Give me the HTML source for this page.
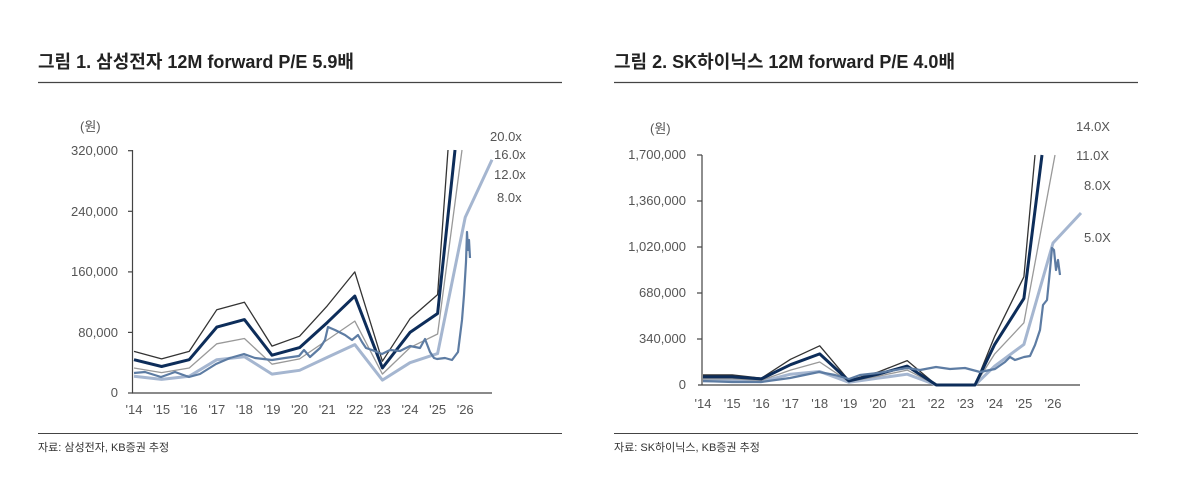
<!DOCTYPE html>
<html><head><meta charset="utf-8"><style>
body{margin:0;background:#fff;width:1200px;height:484px;overflow:hidden;font-family:"Liberation Sans","Noto Sans CJK KR",sans-serif}
svg text{font-family:"Liberation Sans","Noto Sans CJK KR",sans-serif}
</style></head><body>
<svg width="1200" height="484" viewBox="0 0 1200 484" xmlns="http://www.w3.org/2000/svg">
<text x="38" y="68" font-size="18" font-weight="bold" fill="#222">그림 1. 삼성전자 12M forward P/E 5.9배</text>
<text x="614" y="68" font-size="18" font-weight="bold" fill="#222">그림 2. SK하이닉스 12M forward P/E 4.0배</text>
<line x1="38" y1="82.5" x2="562" y2="82.5" stroke="#444" stroke-width="1.2"/>
<line x1="614" y1="82.5" x2="1138" y2="82.5" stroke="#444" stroke-width="1.2"/>
<line x1="38" y1="433.5" x2="562" y2="433.5" stroke="#444" stroke-width="1"/>
<line x1="614" y1="433.5" x2="1138" y2="433.5" stroke="#444" stroke-width="1"/>
<text x="38" y="451" font-size="11" fill="#333">자료: 삼성전자, KB증권 추정</text>
<text x="614" y="451" font-size="11" fill="#333">자료: SK하이닉스, KB증권 추정</text>

<!-- Chart 1 -->
<g font-size="13" fill="#555">
<text x="80" y="131">(원)</text>
<g text-anchor="end"><text x="118" y="155">320,000</text><text x="118" y="216">240,000</text><text x="118" y="276">160,000</text><text x="118" y="337">80,000</text><text x="118" y="397">0</text></g>
<g text-anchor="middle"><text x="134" y="414">'14</text><text x="161.6" y="414">'15</text><text x="189.2" y="414">'16</text><text x="216.8" y="414">'17</text><text x="244.4" y="414">'18</text><text x="272" y="414">'19</text><text x="299.6" y="414">'20</text><text x="327.2" y="414">'21</text><text x="354.8" y="414">'22</text><text x="382.4" y="414">'23</text><text x="410" y="414">'24</text><text x="437.6" y="414">'25</text><text x="465.2" y="414">'26</text></g>
<text x="490" y="141">20.0x</text><text x="494" y="159">16.0x</text><text x="494" y="179">12.0x</text><text x="497" y="202">8.0x</text>
</g>
<g stroke="#444" stroke-width="1.2">
<line x1="132.5" y1="150" x2="132.5" y2="393"/><line x1="132" y1="393" x2="492" y2="393"/>
<line x1="128" y1="150.7" x2="133" y2="150.7"/><line x1="128" y1="211.3" x2="133" y2="211.3"/><line x1="128" y1="271.9" x2="133" y2="271.9"/><line x1="128" y1="332.4" x2="133" y2="332.4"/><line x1="128" y1="393" x2="133" y2="393"/>
</g>
<g fill="none" stroke-linejoin="round">
<polyline stroke="#a5b6d0" stroke-width="3" points="134,376.3 161.6,379.4 189.2,376.3 216.8,359.7 244.4,356.7 272,374.1 299.6,370.3 327.2,357.4 354.8,344.6 382.4,380.1 410,362.7 437.6,353.6 465.2,217.4 492,159.8"/>
<polyline stroke="#999" stroke-width="1.3" points="134,368 161.6,372.6 189.2,368 216.8,343.8 244.4,338.5 272,364.2 299.6,358.9 327.2,340 354.8,321.1 382.4,374.1 410,347.6 437.6,334 462,150"/>
<polyline stroke="#333" stroke-width="1.3" points="134,351.4 161.6,358.9 189.2,351.4 216.8,309.7 244.4,302.2 272,346.1 299.6,336.2 327.2,305.9 354.8,271.9 382.4,361.2 410,318.8 437.6,294.6 448,150"/>
<polyline stroke="#0d2d5a" stroke-width="3" points="134,359.7 161.6,366.5 189.2,359.7 216.8,327.1 244.4,319.6 272,355.2 299.6,347.6 327.2,322.6 354.8,296.1 382.4,368 410,332.4 437.6,313.5 455,150"/>
<polyline stroke="#5d7ca3" stroke-width="2.2" points="134,373 145,372 161,377 175,372 189,377 200,374 216,364 230,358 244,354 255,358 272,360 285,358 299,356 304,350 310,357 320,348 325,340 328,327 335,330 345,335 352,340 358,335 362,342 366,348 372,350 382,354 390,350 400,351 410,346 420,348 425,339 430,352 434,358 437,359 445,358 452,360 458,352 462,320 464,295 466,262 467,232 468,250 469,240 470,258"/>
</g>

<!-- Chart 2 -->
<g font-size="13" fill="#555">
<text x="650" y="133">(원)</text>
<g text-anchor="end"><text x="686" y="159">1,700,000</text><text x="686" y="205">1,360,000</text><text x="686" y="251">1,020,000</text><text x="686" y="297">680,000</text><text x="686" y="343">340,000</text><text x="686" y="389">0</text></g>
<g text-anchor="middle"><text x="703" y="408">'14</text><text x="732.2" y="408">'15</text><text x="761.3" y="408">'16</text><text x="790.5" y="408">'17</text><text x="819.7" y="408">'18</text><text x="848.9" y="408">'19</text><text x="878" y="408">'20</text><text x="907.2" y="408">'21</text><text x="936.4" y="408">'22</text><text x="965.5" y="408">'23</text><text x="994.7" y="408">'24</text><text x="1023.9" y="408">'25</text><text x="1053" y="408">'26</text></g>
<text x="1076" y="131">14.0X</text><text x="1076" y="160">11.0X</text><text x="1084" y="190">8.0X</text><text x="1084" y="242">5.0X</text>
</g>
<g stroke="#444" stroke-width="1.2">
<line x1="702" y1="155" x2="702" y2="385"/><line x1="698" y1="385" x2="1080" y2="385"/>
<line x1="697" y1="155" x2="702" y2="155"/><line x1="697" y1="201" x2="702" y2="201"/><line x1="697" y1="247" x2="702" y2="247"/><line x1="697" y1="293" x2="702" y2="293"/><line x1="697" y1="339" x2="702" y2="339"/>
</g>
<g fill="none" stroke-linejoin="round">
<polyline stroke="#a5b6d0" stroke-width="3" points="703,380.9 732.2,380.9 761.3,381.6 790.5,374.2 819.7,371.5 848.9,382.3 878,378.2 907.2,374.2 936.4,385 975,385 994.7,366.1 1023.9,344.4 1053,243 1081,213"/>
<polyline stroke="#999" stroke-width="1.3" points="703,378.9 732.2,378.9 761.3,380.3 790.5,370.1 819.7,362 848.9,381.6 878,376.2 907.2,370.1 936.4,385 975,385 994.7,353.9 1023.9,322.8 1055,155"/>
<polyline stroke="#333" stroke-width="1.3" points="703,374.9 732.2,374.9 761.3,378.2 790.5,359.3 819.7,345.8 848.9,380.3 878,372.1 907.2,360.6 936.4,385 975,385 994.7,336.3 1023.9,276.8 1035,155"/>
<polyline stroke="#0d2d5a" stroke-width="3" points="703,376.9 732.2,376.9 761.3,378.9 790.5,364.7 819.7,353.9 848.9,380.9 878,374.2 907.2,366.1 936.4,385 975,385 994.7,344.4 1023.9,298.4 1042,155"/>
<polyline stroke="#5d7ca3" stroke-width="2.2" points="703,381 732,382 761,382 790,378 819,372 835,375 849,379 860,375 878,373 907,368 920,370 936,367 950,369 965,368 980,372 995,369 1005,362 1010,357 1015,360 1024,357 1030,356 1035,345 1040,330 1043,305 1047,300 1050,270 1052,248 1054,250 1056,270 1058,260 1060,275"/>
</g>
</svg>
</body></html>
